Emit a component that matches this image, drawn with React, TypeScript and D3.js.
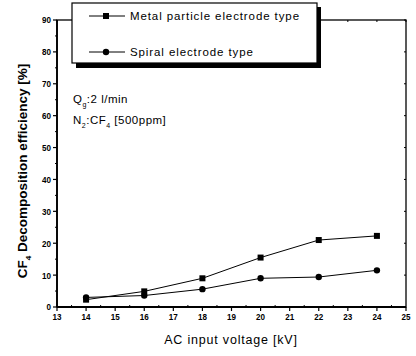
import React from "react";
import * as d3 from "d3";

// AC input voltage [kV]
const voltages = [14, 16, 18, 20, 22, 24];
// CF4 decomposition efficiency [%]
const metalParticle = [2.3, 4.9, 9.0, 15.5, 21.0, 22.3];
const spiral = [3.0, 3.6, 5.6, 9.0, 9.4, 11.5];
const xTicks = [13, 14, 15, 16, 17, 18, 19, 20, 21, 22, 23, 24, 25];
const yTicks = [0, 10, 20, 30, 40, 50, 60, 70, 80, 90];
const legendLabels = ["Metal particle electrode type", "Spiral electrode type"];

const W = 416;
const H = 356;
const left = 57;
const right = 406;
const top = 20;
const bottom = 307;

export default function App() {
  const x = d3.scaleLinear().domain([13, 25]).range([left, right]);
  const y = d3.scaleLinear().domain([0, 90]).range([bottom, top]);
  const line = d3
    .line<number>()
    .x((_, i) => x(voltages[i]))
    .y((d) => y(d));

  const minorX = d3.range(13.5, 25, 1);
  const minorY = d3.range(5, 90, 10);
  const font = "'Liberation Sans', Arial, sans-serif";

  return (
    <svg
      width={W}
      height={H}
      style={{ position: "absolute", left: 0, top: 0, background: "#fff" }}
      fontFamily={font}
    >
      <rect width={W} height={H} fill="#fff" />
      {/* frame */}
      <rect
        x={left}
        y={top}
        width={right - left}
        height={bottom - top}
        fill="none"
        stroke="#000"
        strokeWidth={1.3}
      />
      <line x1={left} x2={right} y1={bottom} y2={bottom} stroke="#000" strokeWidth={1.8} />
      <line x1={left} x2={left} y1={top} y2={bottom} stroke="#000" strokeWidth={1.8} />

      {/* y ticks */}
      {yTicks.map((t) => (
        <g key={"y" + t}>
          <line x1={left - 4} x2={left} y1={y(t)} y2={y(t)} stroke="#000" strokeWidth={1.2} />
          <line x1={right - 2} x2={right} y1={y(t)} y2={y(t)} stroke="#000" strokeWidth={1} />
          <text
            x={left - 6}
            y={y(t) + 3.5}
            textAnchor="end"
            fontSize={9.5}
            fontWeight="bold"
            transform={`translate(${left - 6},0) scale(0.85,1) translate(${-(left - 6)},0)`}
          >
            {t}
          </text>
        </g>
      ))}
      {minorY.map((t) => (
        <line key={"my" + t} x1={left - 2} x2={left} y1={y(t)} y2={y(t)} stroke="#000" strokeWidth={1} />
      ))}

      {/* x ticks */}
      {xTicks.map((t) => (
        <g key={"x" + t}>
          <line x1={x(t)} x2={x(t)} y1={bottom} y2={bottom + 4} stroke="#000" strokeWidth={1.2} />
          <line x1={x(t)} x2={x(t)} y1={top} y2={top + 2} stroke="#000" strokeWidth={1} />
          <text
            x={x(t)}
            y={bottom + 13}
            textAnchor="middle"
            fontSize={9.5}
            fontWeight="bold"
            transform={`translate(${x(t)},0) scale(0.85,1) translate(${-x(t)},0)`}
          >
            {t}
          </text>
        </g>
      ))}
      {minorX.map((t) => (
        <line key={"mx" + t} x1={x(t)} x2={x(t)} y1={bottom - 2} y2={bottom} stroke="#000" strokeWidth={1} />
      ))}

      {/* series */}
      <path d={line(metalParticle) || ""} fill="none" stroke="#000" strokeWidth={1} />
      <path d={line(spiral) || ""} fill="none" stroke="#000" strokeWidth={1} />
      {metalParticle.map((v, i) => (
        <rect key={"m" + i} x={x(voltages[i]) - 3} y={y(v) - 3} width={6} height={6} fill="#000" />
      ))}
      {spiral.map((v, i) => (
        <circle key={"s" + i} cx={x(voltages[i])} cy={y(v)} r={3.2} fill="#000" />
      ))}

      {/* legend */}
      <rect x={76} y={7} width={245} height={61} fill="#000" />
      <rect x={72} y={3} width={245} height={60} fill="#fff" stroke="#000" strokeWidth={1.2} />
      <line x1={89} x2={125} y1={16} y2={16} stroke="#000" strokeWidth={1} />
      <rect x={103} y={13} width={6} height={6} fill="#000" />
      <text x={130} y={20} fontSize={11.5} letterSpacing={0.9}>
        {legendLabels[0]}
      </text>
      <line x1={89} x2={125} y1={52} y2={52} stroke="#000" strokeWidth={1} />
      <circle cx={106} cy={52} r={3.2} fill="#000" />
      <text x={130} y={56} fontSize={11.5} letterSpacing={0.9}>
        {legendLabels[1]}
      </text>

      {/* conditions */}
      <text x={73} y={103} fontSize={11.5} letterSpacing={0.5}>
        Q<tspan dy={4} fontSize={7}>g</tspan>
        <tspan dy={-4}>:2 l/min</tspan>
      </text>
      <text x={73} y={124} fontSize={11.5} letterSpacing={0.5}>
        N<tspan dy={4} fontSize={7}>2</tspan>
        <tspan dy={-4}>:CF</tspan>
        <tspan dy={4} fontSize={7}>4</tspan>
        <tspan dy={-4}> [500ppm]</tspan>
      </text>

      {/* axis titles */}
      <text
        transform={`translate(27,171) rotate(-90)`}
        textAnchor="middle"
        fontSize={13.5}
        fontWeight="bold"
      >
        CF<tspan dy={4} fontSize={8}>4</tspan>
        <tspan dy={-4}> Decomposition efficiency  [%]</tspan>
      </text>
      <text x={231} y={344} textAnchor="middle" fontSize={12.5} letterSpacing={0.8}>
        AC input voltage [kV]
      </text>
    </svg>
  );
}
